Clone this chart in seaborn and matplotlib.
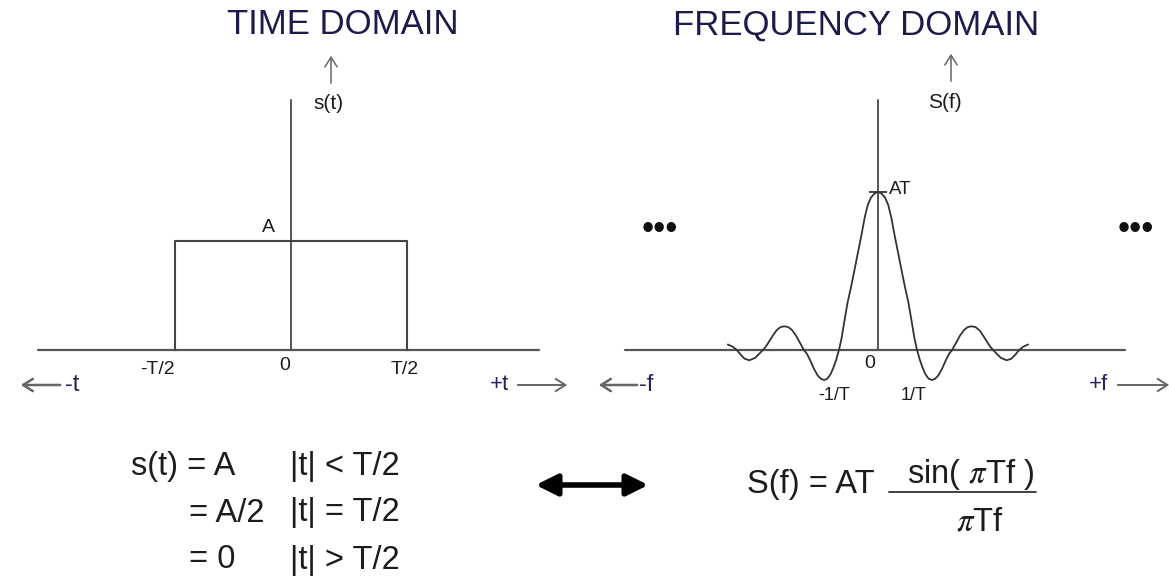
import matplotlib
matplotlib.use("Agg")
import matplotlib.pyplot as plt
import seaborn as sns
from matplotlib.lines import Line2D
from matplotlib.patches import FancyArrowPatch

sns.set_style("white")
plt.rcParams['font.family'] = ['Liberation Sans', 'DejaVu Sans']
plt.rcParams['mathtext.fontset'] = 'stix'

# time domain: rectangular pulse (t in units of T, s in units of A)
pulse_t = [-0.5, -0.5, 0.5, 0.5]
pulse_s = [0, 1, 1, 0]
t_axis = [-1.09, 1.07]
s_axis_top = 2.29

# frequency domain: sinc curve (f in 1/T, S in AT)
sinc_f = [-3.85, -3.72, -3.62, -3.52, -3.42, -3.3, -3.15, -3.05, -2.95,
          -2.88, -2.8, -2.7, -2.6, -2.5, -2.4, -2.3, -2.2, -2.1, -2.0, -1.9,
          -1.82, -1.73, -1.64, -1.55, -1.46, -1.38, -1.3, -1.22, -1.14, -1.07, -1.0,
          -0.93, -0.85, -0.78, -0.69, -0.6, -0.52, -0.43, -0.34, -0.26, -0.18, -0.09,
          0.0,
          0.09, 0.18, 0.26, 0.34, 0.43, 0.52, 0.6, 0.69, 0.78, 0.85, 0.93,
          1.0, 1.07, 1.14, 1.22, 1.3, 1.38, 1.46, 1.55, 1.64, 1.73, 1.82,
          1.9, 2.0, 2.1, 2.2, 2.3, 2.4, 2.5, 2.6, 2.7, 2.8, 2.88,
          2.95, 3.05, 3.15, 3.3, 3.42, 3.52, 3.62, 3.72, 3.85]
sinc_S = [0.035, 0.02, 0.0, -0.03, -0.055, -0.065, -0.05, -0.025, 0.0,
          0.02, 0.05, 0.09, 0.125, 0.145, 0.15, 0.145, 0.125, 0.09, 0.045, 0.0,
          -0.025, -0.07, -0.12, -0.16, -0.183, -0.19, -0.182, -0.155, -0.11, -0.06, 0.0,
          0.08, 0.2, 0.30, 0.40, 0.51, 0.61, 0.72, 0.84, 0.92, 0.965, 0.99,
          1.0,
          0.99, 0.965, 0.92, 0.84, 0.72, 0.61, 0.51, 0.40, 0.30, 0.2, 0.08,
          0.0, -0.06, -0.11, -0.155, -0.182, -0.19, -0.183, -0.16, -0.12, -0.07, -0.025,
          0.0, 0.045, 0.09, 0.125, 0.145, 0.15, 0.145, 0.125, 0.09, 0.05, 0.02,
          0.0, -0.025, -0.05, -0.065, -0.055, -0.03, 0.0, 0.02, 0.035]
f_axis = [-6.49, 6.33]
S_axis_top = 1.58

W, H = 1169, 581
fig = plt.figure(figsize=(W / 100, H / 100), dpi=100)

# both panels overlay the whole figure, each with its own data scale
ax_t = fig.add_axes([0, 0, 1, 1])
ax_t.set_xlim(-291 / 232, (W - 291) / 232)
ax_t.set_ylim((350 - H) / 109, 350 / 109)
ax_f = fig.add_axes([0, 0, 1, 1])
ax_f.set_xlim(-878 / 39, (W - 878) / 39)
ax_f.set_ylim((350 - H) / 158, 350 / 158)
for ax in (ax_t, ax_f):
    ax.axis('off')
    ax.patch.set_alpha(0)

line_c = '#333333'
axis_c = '#555555'
navy = '#24245a'
ink = '#1c1c1c'

# time domain
ax_t.plot(t_axis, [0, 0], color=axis_c, lw=1.6)
ax_t.plot([0, 0], [0, s_axis_top], color=axis_c, lw=1.4)
sns.lineplot(x=pulse_t, y=pulse_s, sort=False, estimator=None, ax=ax_t,
             color='#444444', lw=1.5)

# frequency domain
ax_f.plot(f_axis, [0, 0], color=axis_c, lw=1.6)
ax_f.plot([0, 0], [0, S_axis_top], color=axis_c, lw=1.4)
sns.lineplot(x=sinc_f, y=sinc_S, sort=False, estimator=None, ax=ax_f,
             color=line_c, lw=1.3)
ax_f.plot([0], [1], marker='_', ms=13, mew=1.3, color=line_c)


def P(x, y):
    return x / W, 1 - y / H


def txt(x, y, s, **kw):
    kw.setdefault('ha', 'center')
    kw.setdefault('va', 'center')
    kw.setdefault('color', ink)
    fig.text(*P(x, y), s, **kw)


def arrow(x0, y0, x1, y1, lw=1.4, color='#666666'):
    fig.add_artist(FancyArrowPatch(P(x0, y0), P(x1, y1), transform=fig.transFigure,
                                   arrowstyle='->,head_length=0.35,head_width=0.22',
                                   mutation_scale=20, lw=lw, color=color))


# titles
txt(343, 25, 'TIME DOMAIN', fontsize=25, color='#1c1c4c')
txt(856, 25, 'FREQUENCY DOMAIN', fontsize=25, color='#1c1c4c')
arrow(331, 86, 331, 53, lw=1.1)
txt(328, 104, 's(t)', fontsize=15)
arrow(951, 84, 951, 51, lw=1.1)
txt(945, 103, 'S(f)', fontsize=15)

# time-domain labels
txt(268, 228, 'A', fontsize=14)
txt(157, 370, '-T/2', fontsize=14)
txt(285, 365, '0', fontsize=14)
txt(405, 370, 'T/2', fontsize=14)
arrow(63, 385, 18, 385, lw=1.8)
txt(72, 385, '-t', fontsize=17, color=navy)
txt(499, 384, '+t', fontsize=16, color=navy)
arrow(515, 385, 570, 385, lw=1.4)

# frequency-domain labels
txt(889, 190, 'AT', fontsize=13.5, ha='left')
txt(870, 363, '0', fontsize=14)
txt(834, 396, '-1/T', fontsize=13)
txt(914, 396, '1/T', fontsize=13)
arrow(640, 385, 596, 385, lw=1.8)
txt(646, 385, '-f', fontsize=17, color=navy)
txt(1099, 384, '+f', fontsize=16, color=navy)
arrow(1115, 385, 1172, 385, lw=1.4)
txt(660, 229, '•••', fontsize=25, color='#111111')
txt(1136, 229, '•••', fontsize=25, color='#111111')

# equations
eq = dict(fontsize=23.5, ha='left', color=ink)
txt(131, 467, 's(t) = A', **eq)
txt(189, 513, '= A/2', **eq)
txt(189, 560, '= 0', **eq)
txt(290, 467, '|t| < T/2', **eq)
txt(290, 513, '|t| = T/2', **eq)
txt(290, 560, '|t| > T/2', **eq)

fig.add_artist(FancyArrowPatch(P(533, 485), P(651, 485), transform=fig.transFigure,
                               arrowstyle='<|-|>', mutation_scale=32, lw=4,
                               color='black'))

txt(747, 484, 'S(f) = AT', **eq)
txt(971, 474, r'sin( $\pi$Tf )', fontsize=23.5, color=ink)
txt(980, 522, r'$\pi$Tf', fontsize=23.5, color=ink)
fig.add_artist(Line2D([889 / W, 1036 / W], [1 - 492 / H, 1 - 492 / H],
                      color='#333333', lw=1.3))

fig.savefig('out.png', dpi=100)
